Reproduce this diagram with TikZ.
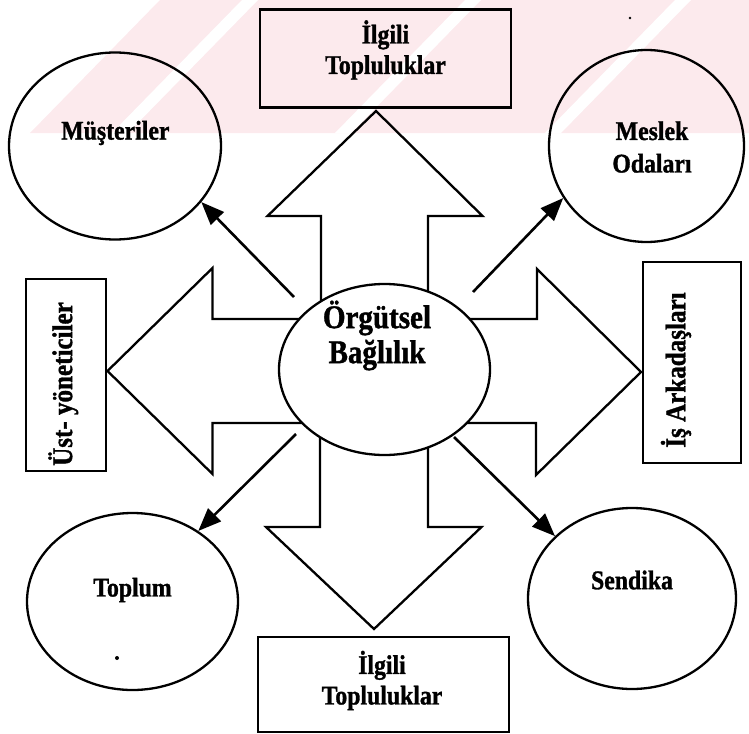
\documentclass[tikz,border=0pt]{standalone}
\usepackage{fontspec}
\setmainfont{Liberation Serif}
\newfontfamily\labfont[FakeStretch=0.88,BoldFeatures={FakeBold=1.2}]{Liberation Serif}
\usetikzlibrary{shapes.geometric,arrows.meta}
\definecolor{wmpink}{RGB}{252,234,237}
\begin{document}
\begin{tikzpicture}[x=1pt,y=-1pt,
  shp/.style={draw=black,line width=2.3pt},
  oval/.style={shp,ellipse,inner sep=0pt},
  boxn/.style={shp,rectangle,inner sep=0pt},
  lbl/.style={font=\labfont\bfseries\fontsize{27}{30.5}\selectfont,align=center,inner sep=0pt},
  lblb/.style={font=\labfont\bfseries\fontsize{27}{32.5}\selectfont,align=center,inner sep=0pt},
  lblr/.style={font=\labfont\bfseries\fontsize{28.5}{30}\selectfont,inner sep=0pt,rotate=90},
  big/.style={font=\labfont\bfseries\fontsize{33}{35}\selectfont,align=center,inner sep=0pt},
  arr/.style={line width=2.6pt,-{Triangle[length=23pt,width=18pt]}},
  wm/.style={fill=wmpink,draw=none},
  wmw/.style={fill=white,draw=none}
]
\useasboundingbox (0,0) rectangle (749,733);
% faint watermark
\fill[wm] (30,133) -- (160,0) -- (749,0) -- (749,133) -- cycle;
\fill[wmw] (112,133) -- (128,133) -- (258,0) -- (242,0) -- cycle;
\fill[wmw] (335,133) -- (351,133) -- (481,0) -- (465,0) -- cycle;
\fill[wmw] (545,133) -- (561,133) -- (691,0) -- (675,0) -- cycle;
% scan dots
\fill (117,658) circle (2pt);
\fill (630,18) circle (1.4pt);
% big four-way arrow
\draw[shp,line join=miter] (376,111) -- (482.5,216) -- (428,216) -- (428,319) -- (537,319) -- (537,269) -- (641,372) -- (536,475) -- (536,423) -- (428,423) -- (428,527) -- (481.5,527) -- (374,629) -- (266,527) -- (320,527) -- (320,423) -- (212.5,423) -- (212.5,474) -- (107.5,371) -- (212.5,268) -- (212.5,319) -- (321,319) -- (321,216) -- (267.5,216) -- cycle;
% centre
\node[oval,fill=white,minimum width=211pt,minimum height=171pt] (cen) at (384.5,369.5) {};
\node[big] (cent) at (377,335.5) {Örgütsel\\Bağlılık};
% outer ellipses
\node[oval,minimum width=212pt,minimum height=187pt] (mus) at (115,146) {};
\node[oval,minimum width=195pt,minimum height=192pt] (mes) at (646.5,146) {};
\node[oval,minimum width=211pt,minimum height=177pt] (topl) at (132.5,601.5) {};
\node[oval,minimum width=208pt,minimum height=181pt] (sen) at (632,598.5) {};
\node[lbl] (must) at (115.4,133) {Müşteriler};
\node[lblb] (mest) at (652,147) {Meslek\\Odaları};
\node[lbl] (toplt) at (132.5,590) {Toplum};
\node[lbl] (sent) at (632,580) {Sendika};
% boxes
\node[boxn,minimum width=251pt,minimum height=98pt] (tbox) at (385.6,58.5) {};
\node[boxn,minimum width=80pt,minimum height=192pt] (lbox) at (66,375) {};
\node[boxn,minimum width=98pt,minimum height=201pt] (rbox) at (692,362.5) {};
\node[boxn,minimum width=251pt,minimum height=95pt] (bbox) at (383.5,684.5) {};
\node[lbl] (tboxt) at (385.5,50) {İlgili\\Topluluklar};
\node[lbl] (bboxt) at (382,680.5) {İlgili\\Topluluklar};
\node[lblr] (lboxt) at (63.3,384) {Üst- yöneticiler};
\node[lblr] (rboxt) at (676,370) {İş Arkadaşları};
% small arrows
\coordinate (s1) at (294,297);
\coordinate (s2) at (473,292);
\coordinate (s3) at (296,434);
\coordinate (s4) at (454,437);
\draw[arr] (s1) -- (mus.-33.4);
\draw[arr] (s2) -- (mes.212.7);
\draw[arr] (s3) -- (topl.47.6);
\draw[arr] (s4) -- (sen.141.8);
\end{tikzpicture}
\end{document}
